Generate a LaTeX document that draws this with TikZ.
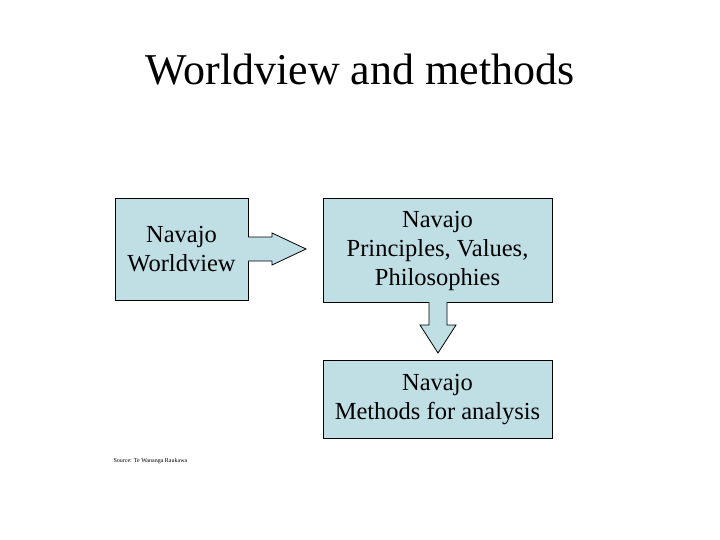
\documentclass[tikz,border=0pt]{standalone}
\usepackage{fontspec}
\setmainfont{Liberation Serif}
\begin{document}
\begin{tikzpicture}[x=1pt,y=-1pt,
  boxs/.style={draw=black,fill=boxc,line width=0.8pt},
  txt/.style={font=\fontsize{24.5}{29}\selectfont,align=center}]
\definecolor{boxc}{RGB}{191,223,229}
\useasboundingbox (0,0) rectangle (720,540);
\node[font=\fontsize{44}{52}\selectfont] (title) at (360,70) {Worldview and methods};
\draw[boxs] (115,198) rectangle (248,300);
\node[txt] (b1) at (181.5,249) {Navajo\\Worldview};
\draw[boxs] (323,198) rectangle (552,302);
\node[txt] (b2) at (437.5,251) {Navajo\\Principles, Values,\\Philosophies};
\draw[boxs] (323,360) rectangle (552,438);
\node[txt] (b3) at (437.5,400) {Navajo\\Methods for analysis};
\draw[boxs] (248,237) -- (272,237) -- (272,233) -- (306,249) -- (272,265) -- (272,261) -- (248,261);
\draw[boxs] (429,302) -- (429,325) -- (420,325) -- (438,353) -- (456,325) -- (447,325) -- (447,302);
\node[font=\fontsize{6}{7}\selectfont,anchor=west] (src) at (110,461) {Source: Te Wananga Raukawa};
\end{tikzpicture}
\end{document}
